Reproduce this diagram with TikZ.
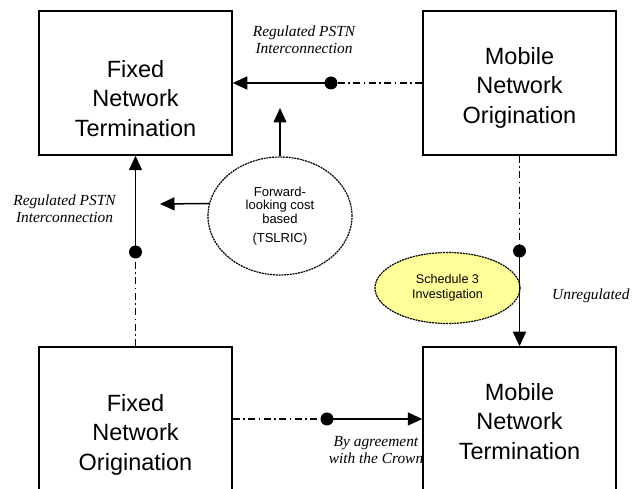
\documentclass[tikz,border=0pt]{standalone}
\usepackage{fontspec}
\setmainfont{Liberation Serif}
\setsansfont{Liberation Sans}
\usetikzlibrary{arrows.meta,shapes.geometric}
\definecolor{paleyellow}{RGB}{255,255,153}
\tikzset{
  netbox/.style={draw, line width=1.5pt, rectangle, minimum width=193pt, minimum height=144pt, inner sep=0pt},
  boxtext/.style={anchor=north, inner sep=0pt, align=center, font=\sffamily\fontsize{23.5}{29.5}\selectfont},
  lbl/.style={anchor=north, inner sep=0pt, align=center, font=\itshape\fontsize{15.4}{17}\selectfont},
  dotnode/.style={circle, fill=black, inner sep=0pt, minimum size=13pt},
  dashdot/.style={line width=1.4pt, dash pattern=on 7pt off 3.5pt on 1.5pt off 3.5pt},
  arr/.style={line width=1.5pt, -{Triangle[length=14.5pt,width=13pt]}},
  costell/.style={draw, ellipse, line width=1.2pt, dash pattern=on 2pt off 0.8pt, minimum width=144pt, minimum height=118pt, inner sep=0pt, align=center, font=\sffamily\fontsize{13}{13.5}\selectfont},
  schedell/.style={draw, ellipse, fill=paleyellow, line width=1.2pt, dash pattern=on 2pt off 0.8pt, minimum width=145pt, minimum height=71pt, inner sep=0pt, align=center, font=\sffamily\fontsize{12.6}{15}\selectfont}
}
\begin{document}
\begin{tikzpicture}[x=1pt,y=-1pt]
\useasboundingbox (0,0) rectangle (633,489);
% boxes
\node[netbox] (fnt) at (135.5,83) {};
\node[netbox] (mno) at (519.5,83) {};
\node[netbox] (fno) at (135.5,419) {};
\node[netbox] (mnt) at (519.5,419) {};
\node[boxtext] (fnt-t) at (135.5,60) {Fixed\\Network\\Termination};
\node[boxtext] (mno-t) at (519.5,47) {Mobile\\Network\\Origination};
\node[boxtext] (fno-t) at (135.5,394) {Fixed\\Network\\Origination};
\node[boxtext] (mnt-t) at (519.5,383) {Mobile\\Network\\Termination};
% ellipses
\node[costell] (cost) at (280,216) {Forward-\\looking cost\\based\\[6pt](TSLRIC)};
\node[schedell] (sched) at (447.5,288) {Schedule 3\\Investigation};
% dots
\node[dotnode] (d1) at (331,83) {};
\node[dotnode] (d2) at (135.5,252) {};
\node[dotnode] (d3) at (327,419) {};
\node[dotnode] (d4) at (519.5,251) {};
% connectors
\draw[dashdot] (mno.west) -- (d1.center);
\draw[arr] (d1.center) -- (fnt.east);
\draw[dashdot] (fno.north) -- (d2.center);
\draw[arr] (d2.center) -- (fnt.south);
\draw[dashdot] (fno.east) -- (d3.center);
\draw[arr] (d3.center) -- (mnt.west);
\draw[dashdot] (mno.south) -- (d4.center);
\draw[arr] (d4.center) -- (mnt.north);
\coordinate (c1) at (280,108);
\coordinate (c2) at (160,204);
\draw[arr] (cost.north) -- (c1);
\draw[arr] (cost.170) -- (c2);
% labels
\node[lbl] (l1) at (304,25.7) {Regulated PSTN\\Interconnection};
\node[lbl] (l2) at (64.5,194.7) {Regulated PSTN\\Interconnection};
\node[lbl, anchor=base west] (l3) at (552,300) {Unregulated};
\node[lbl] (l4) at (376,436.7) {By agreement\\with the Crown};
\end{tikzpicture}
\end{document}
